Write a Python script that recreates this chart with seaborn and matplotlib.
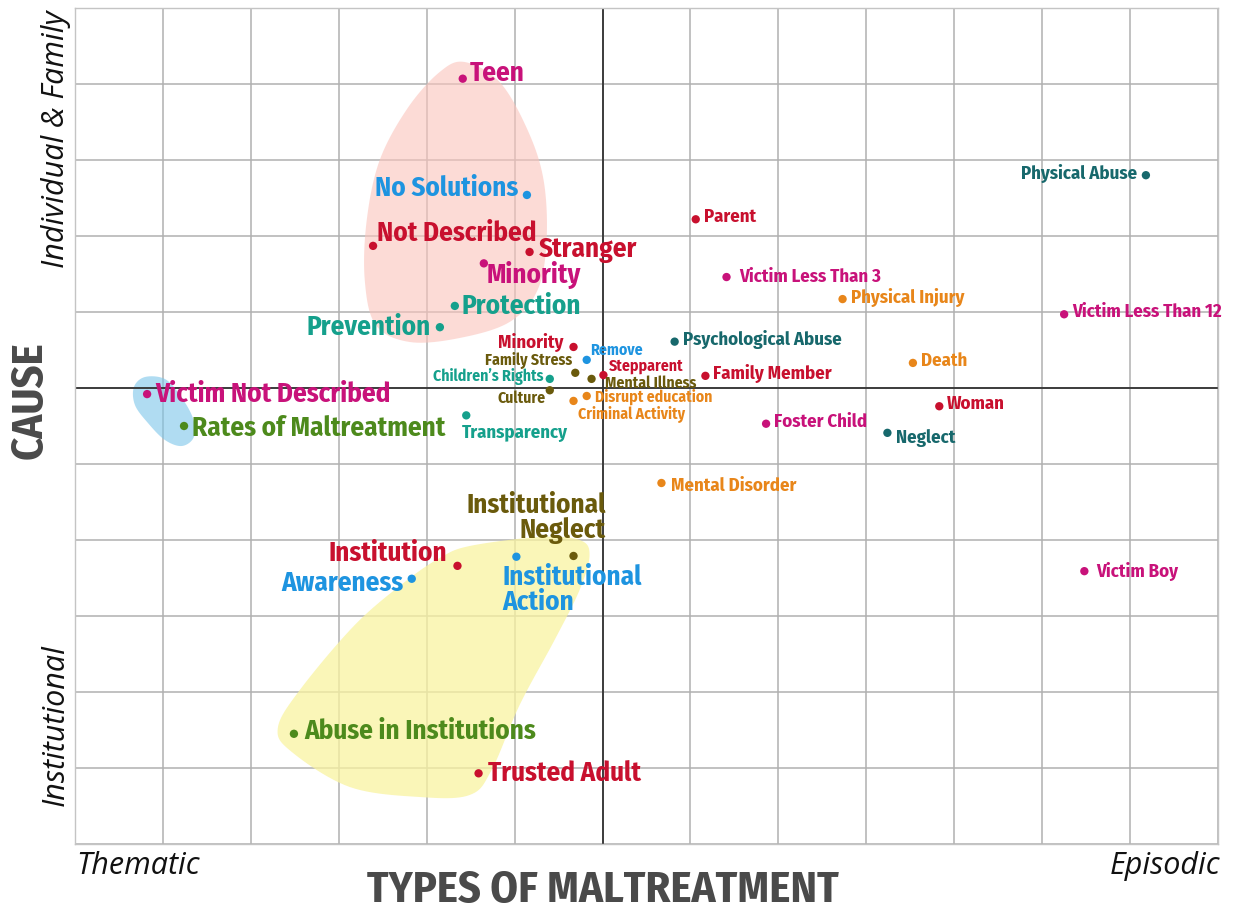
import numpy as np
import pandas as pd
import matplotlib
matplotlib.use("Agg")
import matplotlib.pyplot as plt
import seaborn as sns
from matplotlib import font_manager as fm
from matplotlib.patches import Polygon

# ---------------- data ----------------
labels = ["Teen", "No Solutions", "Not Described", "Stranger", "Minority", "Protection",
          "Prevention", "Minority ", "Remove", "Family Stress", "Stepparent", "Mental Illness",
          "Children\u2019s Rights", "Culture", "Disrupt education", "Criminal Activity",
          "Transparency", "Victim Not Described", "Rates of Maltreatment",
          "Institutional\nNeglect", "Institutional\nAction", "Institution", "Awareness",
          "Abuse in Institutions", "Trusted Adult", "Physical Abuse", "Parent",
          "Victim Less Than 3", "Physical Injury", "Victim Less Than 12", "Psychological Abuse",
          "Death", "Family Member", "Woman", "Foster Child", "Neglect", "Mental Disorder",
          "Victim Boy"]
x_vals = [-1.59, -0.86, -2.61, -0.83, -1.35, -1.68, -1.85, -0.33, -0.18, -0.31, 0.01, -0.125,
          -0.60, -0.60, -0.18, -0.33, -1.55, -5.18, -4.76, -0.33, -0.98, -1.65, -2.17,
          -3.51, -1.41, 6.18, 1.06, 1.41, 2.73, 5.25, 0.82, 3.53, 1.17, 3.83, 1.86, 3.24, 0.67, 5.48]
y_vals = [4.07, 2.54, 1.87, 1.79, 1.64, 1.08, 0.80, 0.54, 0.37, 0.20, 0.17, 0.12,
          0.12, -0.03, -0.105, -0.17, -0.36, -0.08, -0.50, -2.21, -2.22, -2.34, -2.51,
          -4.55, -5.07, 2.80, 2.22, 1.46, 1.17, 0.97, 0.61, 0.33, 0.16, -0.24, -0.47, -0.59, -1.25, -2.41]
groups = ["magenta", "blue", "crimson", "crimson", "magenta", "teal",
          "teal", "crimson", "blue", "olive", "crimson", "olive",
          "teal", "olive", "orange", "orange", "teal", "magenta", "green",
          "olive", "blue", "crimson", "blue", "green", "crimson", "darkteal", "crimson",
          "magenta", "orange", "magenta", "darkteal", "orange", "crimson", "crimson",
          "magenta", "darkteal", "orange", "magenta"]
sizes = ["big", "big", "big", "big", "big", "big", "big", "mid", "small", "small", "small", "small",
         "small", "small", "small", "small", "mid", "big", "big", "big", "big", "big", "big",
         "big", "big", "mid", "mid", "mid", "mid", "mid", "mid", "mid", "mid", "mid", "mid",
         "mid", "mid", "mid"]

df = pd.DataFrame({"label": labels, "x": x_vals, "y": y_vals, "group": groups, "size": sizes})

palette = {"magenta": "#C8127A", "blue": "#1E94E0", "crimson": "#C8102E", "teal": "#15A08C",
           "olive": "#6A5A0C", "green": "#4D8A1C", "orange": "#E8861A", "darkteal": "#17686C"}

# label placement (pixel offsets dx, dy, ha)
place = {
    "Teen": (7, 5, "left"), "No Solutions": (-9, 7, "right"), "Not Described": (4, 13, "left"),
    "Stranger": (9, 2, "left"), "Minority": (3, -12, "left"), "Protection": (7, 0, "left"),
    "Prevention": (-9, 0, "right"), "Minority ": (-6, 4, "right"), "Remove": (3, 10, "left"),
    "Family Stress": (-3, 12, "right"), "Stepparent": (5, 9, "left"),
    "Mental Illness": (13, -4, "left"), "Children\u2019s Rights": (-6, 2, "right"),
    "Culture": (-4, -8, "right"), "Disrupt education": (8, -1, "left"),
    "Criminal Activity": (4, -14, "left"), "Transparency": (-4, -18, "left"),
    "Victim Not Described": (8, 0, "left"), "Rates of Maltreatment": (8, -2, "left"),
    "Institutional\nNeglect": (32, 38, "right"), "Institutional\nAction": (-14, -33, "left"),
    "Institution": (-10, 13, "right"), "Awareness": (-8, -5, "right"),
    "Abuse in Institutions": (10, 2, "left"), "Trusted Adult": (9, 0, "left"),
    "Physical Abuse": (-9, 2, "right"), "Mental Disorder": (10, -3, "left"),
    "Victim Less Than 3": (13, 0, "left"), "Neglect": (9, -5, "left"), "Victim Boy": (12, 0, "left"),
}
fsize = {"big": 19.5, "mid": 13.5, "small": 11.3}

# ---------------- fonts ----------------
names = {f.name for f in fm.fontManager.ttflist}
COND = next((n for n in ["Fira Sans Condensed", "Barlow Semi Condensed", "Asap Condensed",
                         "Liberation Sans Narrow"] if n in names), "DejaVu Sans")
ITAL = "Open Sans" if "Open Sans" in names else "DejaVu Sans"

sns.set_theme(style="white")
plt.rcParams["font.family"] = [COND, "DejaVu Sans"]

W, H = 1241, 914
fig = plt.figure(figsize=(W / 100, H / 100), dpi=100)
ax = fig.add_axes([75 / W, 1 - 844 / H, (1218 - 75) / W, (844 - 8) / H])
ax.set_xlim(-6, 7)
ax.set_ylim(-6, 5)
ax.set_xticks(np.arange(-6, 8))
ax.set_yticks(np.arange(-6, 6))
ax.set_xticklabels([])
ax.set_yticklabels([])
ax.tick_params(length=0)
ax.grid(True, color="#b0b0b0", lw=1.1)
ax.set_axisbelow(True)
for s in ax.spines.values():
    s.set_color("#c4c4c4")
    s.set_linewidth(1.0)
ax.axhline(0, color="#333333", lw=1.3, zorder=1.5)
ax.axvline(0, color="#333333", lw=1.3, zorder=1.5)


def blob(px_pts, color, alpha):
    pts = np.array([((px - 603) / 88.0, (388 - py) / 76.0) for px, py in px_pts])
    n = len(pts)
    out = []
    for i in range(n):
        p0, p1, p2, p3 = pts[(i - 1) % n], pts[i], pts[(i + 1) % n], pts[(i + 2) % n]
        for t in np.linspace(0, 1, 12, endpoint=False):
            t2, t3 = t * t, t * t * t
            out.append(0.5 * ((2 * p1) + (-p0 + p2) * t + (2 * p0 - 5 * p1 + 4 * p2 - p3) * t2
                              + (-p0 + 3 * p1 - 3 * p2 + p3) * t3))
    ax.add_patch(Polygon(np.array(out), closed=True, facecolor=color, edgecolor="none",
                         alpha=alpha, zorder=1))


blob([(465, 62), (500, 82), (528, 130), (544, 180), (547, 240), (538, 290), (510, 322),
      (460, 338), (410, 342), (376, 325), (365, 280), (367, 220), (380, 160), (408, 108),
      (440, 72)], "#FBC4BC", 0.6)
blob([(145, 377), (165, 379), (180, 395), (193, 418), (194, 437), (182, 446), (165, 440),
      (148, 423), (135, 405), (134, 387)], "#7CC6EA", 0.6)
blob([(470, 546), (540, 537), (580, 540), (590, 555), (580, 590), (555, 640), (520, 705),
      (492, 770), (470, 795), (420, 797), (350, 787), (292, 752), (278, 728), (300, 690),
      (355, 625), (405, 582), (440, 558)], "#F9F3A0", 0.75)

sns.scatterplot(data=df, x="x", y="y", hue="group", palette=palette, s=36, legend=False,
                ax=ax, edgecolor="none", zorder=3)
ax.set_xlabel("")
ax.set_ylabel("")

for _, r in df.iterrows():
    dx, dy, ha = place.get(r["label"], (8, 2, "left"))
    ax.annotate(r["label"], (r["x"], r["y"]), xytext=(dx, dy), textcoords="offset pixels",
                ha=ha, va="center", multialignment=ha, fontsize=fsize[r["size"]],
                fontweight="bold", color=palette[r["group"]], linespacing=0.95, zorder=4,
                annotation_clip=False)

fx = lambda p: p / W
fy = lambda p: 1 - p / H
fig.text(fx(30), fy(400), "CAUSE", rotation=90, ha="center", va="center", fontsize=32,
         fontweight="bold", color="#4a4a4a")
fig.text(fx(603), fy(891), "TYPES OF MALTREATMENT", ha="center", va="center", fontsize=32,
         fontweight="bold", color="#4a4a4a")
ital = dict(fontsize=22, style="italic", family=[ITAL, "DejaVu Sans"], color="#111111")
fig.text(fx(76), fy(866), "Thematic", ha="left", va="center", **ital)
fig.text(fx(1220), fy(866), "Episodic", ha="right", va="center", **ital)
fig.text(fx(56), fy(10), "Individual & Family", rotation=90, ha="center", va="top", **ital)
fig.text(fx(56), fy(806), "Institutional", rotation=90, ha="center", va="bottom", **ital)

fig.savefig("out.png", dpi=100, facecolor="white")
